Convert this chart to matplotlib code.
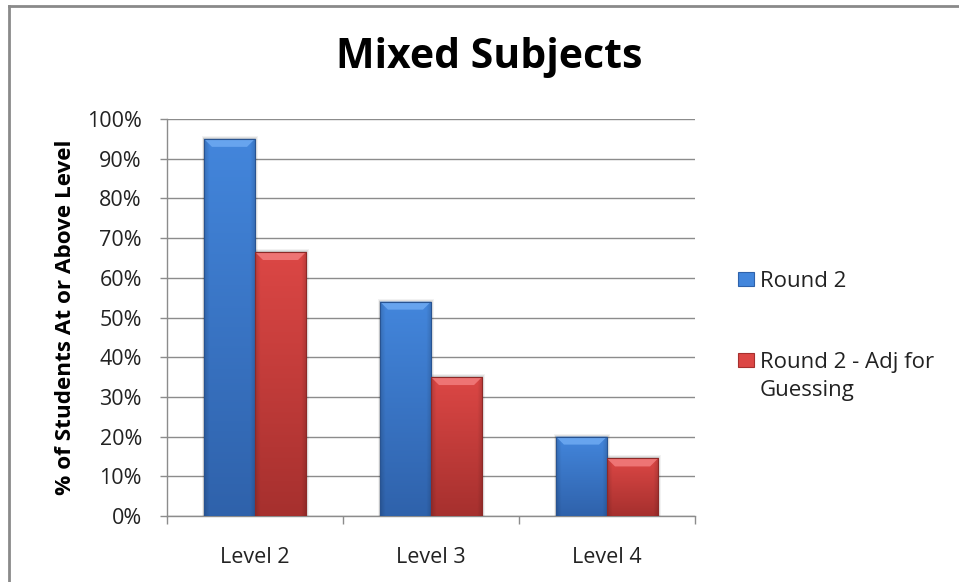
import numpy as np
import matplotlib
matplotlib.use("Agg")
import matplotlib.pyplot as plt
from matplotlib.patches import Polygon, Rectangle
from matplotlib.colors import to_rgb

# ---- data ----
categories = ["Level 2", "Level 3", "Level 4"]
series_names = ["Round 2", "Round 2 - Adj for\nGuessing"]
round2 = [0.95, 0.54, 0.20]
round2_adj = [0.665, 0.35, 0.145]
y_ticks = [i / 10 for i in range(11)]
y_tick_labels = [f"{int(round(t * 100))}%" for t in y_ticks]

# ---- style ----
FONT = "Open Sans"
plt.rcParams["font.family"] = [FONT, "DejaVu Sans"]
TEXT = "#222222"
GRID = "#8c8c8c"
blue_top, blue_bot = "#4386dc", "#2f62ab"
red_top, red_bot = "#dc4745", "#a6302e"
blue_bevel, red_bevel = "#6aa6f0", "#f07777"
LABEL_SIZE = 15.5

W, H, DPI = 959, 582, 100
fig = plt.figure(figsize=(W / DPI, H / DPI), dpi=DPI)
fig.patch.set_facecolor("white")

# axes placed in pixel terms
ax_l, ax_r, ax_t, ax_b = 167, 695, 119, 516
ax = fig.add_axes([ax_l / W, 1 - ax_b / H, (ax_r - ax_l) / W, (ax_b - ax_t) / H])
ax.set_xlim(-0.5, len(categories) - 0.5)
ax.set_ylim(0, 1.0)

bar_w = 0.29
x = np.arange(len(categories))
bars_a = ax.bar(x - bar_w / 2, round2, width=bar_w, color=blue_top, zorder=3, linewidth=0)
bars_b = ax.bar(x + bar_w / 2, round2_adj, width=bar_w, color=red_top, zorder=3, linewidth=0)

# pixel -> data scale
px_x = (len(categories)) / (ax_r - ax_l)
px_y = 1.0 / (ax_b - ax_t)


def shade(bars, top, bot, bevel):
    c_top = np.array(to_rgb(top))
    c_bot = np.array(to_rgb(bot))
    c_bev = np.array(to_rgb(bevel))
    for p in bars:
        x0, w, h = p.get_x(), p.get_width(), p.get_height()
        # soft shadow
        for k, a in [(3, 0.05), (2, 0.07), (1, 0.10)]:
            ax.add_patch(Rectangle((x0 - k * px_x * 0.5, 0), w + k * px_x * 1.5, h + k * px_y,
                                   facecolor="black", edgecolor="none", alpha=a, zorder=2.9))
        ny, nx = 200, 60
        ty = np.linspace(0, 1, ny)[:, None, None]          # 0 top -> 1 bottom
        tx = np.linspace(-1, 1, nx)[None, :, None]
        col = c_top * (1 - ty) + c_bot * ty
        edge = np.clip((np.abs(tx) - 0.8) / 0.2, 0, 1)
        col = col * (1 - 0.15 * edge)
        img = np.clip(col, 0, 1)
        im = ax.imshow(img, extent=(x0, x0 + w, 0, h), aspect="auto",
                       zorder=3.1, interpolation="bilinear")
        im.set_clip_path(p)
        # bevel at the top edge
        d = 8 * px_x
        dy = 8 * px_y
        bev = Polygon([(x0, h), (x0 + w, h), (x0 + w - d, h - dy), (x0 + d, h - dy)],
                      closed=True, facecolor=c_bev, edgecolor="none", zorder=3.2, alpha=0.95)
        ax.add_patch(bev)
        # thin darker outline
        ax.add_patch(Rectangle((x0, 0), w, h, facecolor="none",
                               edgecolor=tuple(c_bot * 0.85), linewidth=0.8, zorder=3.3))
    return bars


shade(bars_a, blue_top, blue_bot, blue_bevel)
shade(bars_b, red_top, red_bot, red_bevel)

# gridlines and axes
ax.set_yticks(y_ticks)
ax.set_yticklabels(y_tick_labels)
ax.yaxis.grid(True, color=GRID, linewidth=1.0, zorder=0)
ax.set_axisbelow(True)
for s in ["top", "right"]:
    ax.spines[s].set_visible(False)
for s in ["left", "bottom"]:
    ax.spines[s].set_color(GRID)
    ax.spines[s].set_linewidth(1.0)

ax.set_xticks(x)
ax.set_xticklabels(categories)
ax.set_xticks(np.arange(-0.5, len(categories)), minor=True)
ax.tick_params(axis="x", which="major", length=0, pad=22, labelsize=LABEL_SIZE, labelcolor=TEXT)
ax.tick_params(axis="x", which="minor", length=6, color=GRID, width=1.0, direction="out")
ax.tick_params(axis="y", which="major", length=5, color=GRID, width=1.0, pad=13,
               labelsize=LABEL_SIZE, labelcolor=TEXT)

ax.set_ylabel("% of Students At or Above Level", fontsize=16.2, fontweight="bold",
              color="black", labelpad=8)

fig.text(489 / W, 1 - 58 / H, "Mixed Subjects", ha="center", va="center",
         fontsize=29.5, fontweight="bold", color="black")

# legend built from the series colours
leg_items = [(series_names[0], blue_top, blue_bot, 279),
             (series_names[1], red_top, red_bot, 360)]
for label, ctop, cbot, yc in leg_items:
    sq = Rectangle((738 / W, 1 - (yc + 7) / H), 16 / W, 14 / H, transform=fig.transFigure,
                   facecolor=ctop, edgecolor=cbot, linewidth=0.8)
    fig.add_artist(sq)
    fig.text(760 / W, 1 - (yc - 8) / H, label, ha="left", va="top",
             fontsize=16, color=TEXT, linespacing=1.45)

# outer frame (top and left edges visible)
fig.add_artist(plt.Line2D([9 / W, 9 / W], [0, 1 - 6 / H], transform=fig.transFigure,
                          color="#8a8a8a", linewidth=2.0))
fig.add_artist(plt.Line2D([9 / W, 1], [1 - 6 / H, 1 - 6 / H], transform=fig.transFigure,
                          color="#8a8a8a", linewidth=2.0))

fig.savefig("out.png", dpi=DPI)
